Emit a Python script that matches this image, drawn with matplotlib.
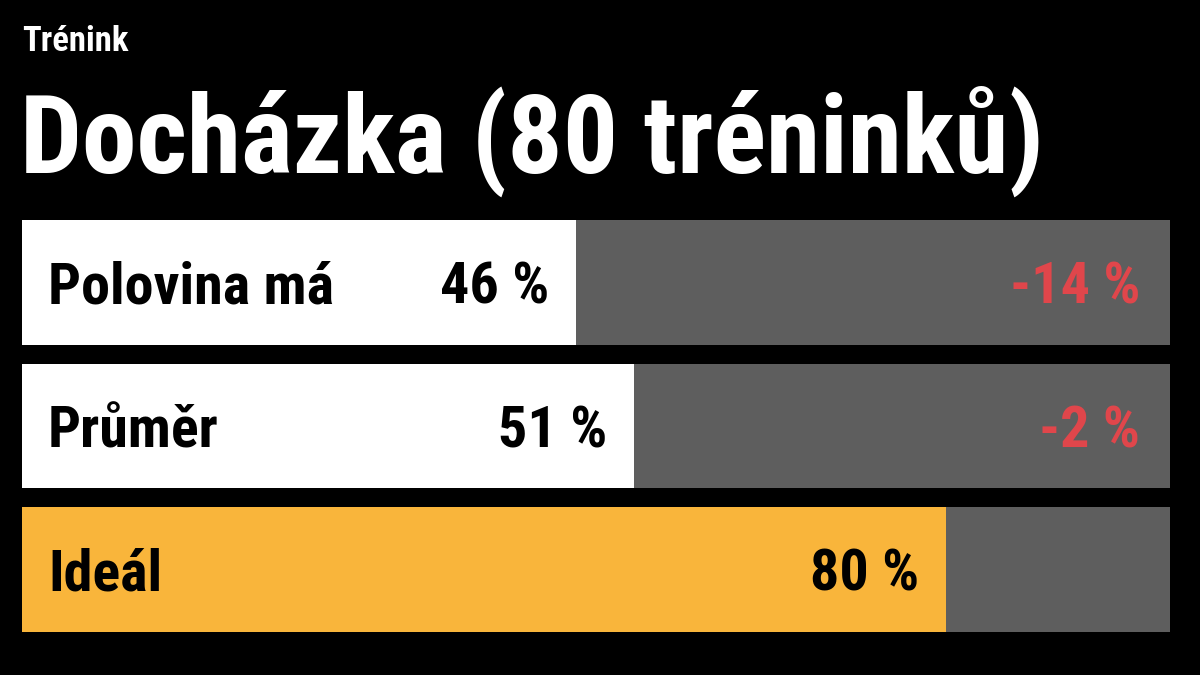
import matplotlib
matplotlib.use('Agg')
import matplotlib.pyplot as plt
from matplotlib import font_manager

W, H, DPI = 1200, 675, 100

# ── Data ────────────────────────────────────────────────
kicker = 'Trénink'
title = 'Docházka (80 tréninků)'
row_labels = ['Polovina má', 'Průměr', 'Ideál']
shown_pct = [46, 51, 80]
bar_pct = [48.3, 53.3, 80.5]        # drawn bar lengths, as measured in the picture
gap_labels = ['-14 %', '-2 %', '']

COLORS = {
    'bg': '#000000',
    'track': '#5e5e5e',
    'fill': '#ffffff',
    'ideal': '#f9b53b',
    'text': '#ffffff',
    'dark': '#000000',
    'neg': '#e0464b',
}
fill_colors = [COLORS['fill'], COLORS['fill'], COLORS['ideal']]

# pick the narrowest heavy face we have
installed = {f.name for f in font_manager.fontManager.ttflist}
FONT = 'DejaVu Sans'
for fam in ['Liberation Sans Narrow', 'Roboto Condensed', 'Open Sans Condensed', 'DejaVu Sans']:
    if fam in installed:
        FONT = fam
        break
plt.rcParams['font.family'] = [FONT, 'DejaVu Sans']
plt.rcParams['font.weight'] = 'bold'

fig = plt.figure(figsize=(W / DPI, H / DPI), dpi=DPI, facecolor=COLORS['bg'])
renderer = fig.canvas.get_renderer()


def fit(txt, width_px):
    w = txt.get_window_extent(renderer).width
    txt.set_fontsize(txt.get_fontsize() * width_px / w)


# ── Header (pixel coordinates) ──────────────────────────
head = fig.add_axes((0, 0, 1, 1))
head.set_xlim(0, W)
head.set_ylim(H, 0)
head.axis('off')

t1 = head.text(22, 51, kicker, color=COLORS['text'], fontsize=20,
               ha='left', va='baseline', fontweight='bold')
fit(t1, 106)
t2 = head.text(20, 173, title, color=COLORS['text'], fontsize=80,
               ha='left', va='baseline', fontweight='bold')
fit(t2, 1025)

# ── Bars ────────────────────────────────────────────────
h = 0.871
ax = fig.add_axes((22 / W, 1 - 632 / H, 1148 / W, 412 / H))
ax.set_facecolor(COLORS['bg'])
ypos = list(range(len(row_labels)))
ax.barh(ypos, [100] * len(ypos), height=h, color=COLORS['track'], linewidth=0)
ax.barh(ypos, bar_pct, height=h, color=fill_colors, linewidth=0)
ax.set_xlim(0, 100)
ax.set_ylim(len(ypos) - 1 + h / 2, -h / 2)
ax.axis('off')

size = 40
probe = ax.annotate(row_labels[0], xy=(0, 0), xytext=(26, -21),
                    textcoords='offset pixels', fontsize=size, fontweight='bold')
fit(probe, 285)
size = probe.get_fontsize()
probe.remove()

for i, lab in enumerate(row_labels):
    ax.annotate(lab, xy=(0, i), xytext=(26, -21), textcoords='offset pixels',
                ha='left', va='baseline', fontsize=size, fontweight='bold',
                color=COLORS['dark'])
    ax.annotate(f'{shown_pct[i]} %', xy=(bar_pct[i], i), xytext=(-27, -21),
                textcoords='offset pixels', ha='right', va='baseline',
                fontsize=size, fontweight='bold', color=COLORS['dark'])
    if gap_labels[i]:
        ax.annotate(gap_labels[i], xy=(100, i), xytext=(-30, -21),
                    textcoords='offset pixels', ha='right', va='baseline',
                    fontsize=size, fontweight='bold', color=COLORS['neg'])

fig.savefig('out.png', dpi=DPI, facecolor=COLORS['bg'])
